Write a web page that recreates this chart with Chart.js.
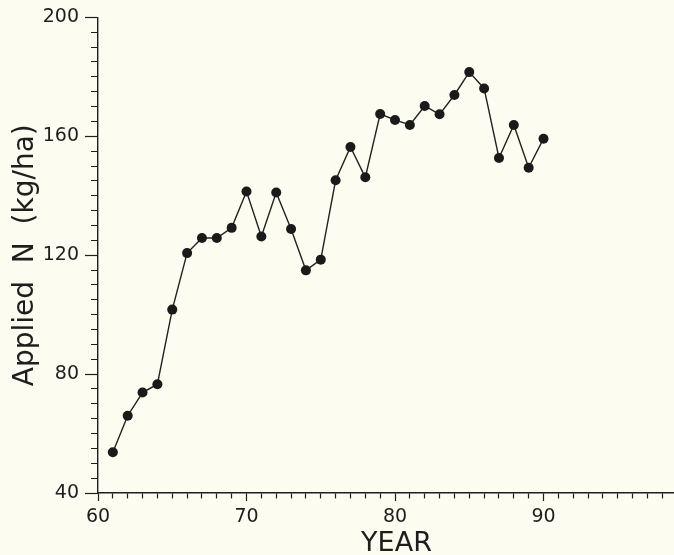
<!DOCTYPE html>
<html>
<head>
<meta charset="utf-8">
<script src="https://cdn.jsdelivr.net/npm/chart.js@4/dist/chart.umd.min.js"></script>
<style>
  html, body { margin: 0; padding: 0; background: #fcfcf0; overflow: hidden; }
  #wrap { width: 674px; height: 555px; position: relative; overflow: hidden; }
  canvas { display: block; }
</style>
</head>
<body>
<div id="wrap"><canvas id="c" width="700" height="555"></canvas></div>
<script>
const years = [61, 62, 63, 64, 65, 66, 67, 68, 69, 70, 71, 72, 73, 74, 75, 76, 77, 78, 79, 80, 81, 82, 83, 84, 85, 86, 87, 88, 89, 90];
const appliedN = [53.7, 66.0, 73.8, 76.6, 101.7, 120.7, 125.8, 125.8, 129.2, 141.4, 126.3, 141.1, 128.8, 114.9, 118.5, 145.2, 156.4, 146.2, 167.5, 165.5, 163.8, 170.2, 167.4, 173.9, 181.6, 176.1, 152.7, 163.8, 149.4, 159.2];
const xLabels = [60, 70, 80, 90];
const yLabels = [40, 80, 120, 160, 200];
const xTitle = 'YEAR';
const yTitle = 'Applied  N  (kg/ha)';

const ink = '#1e1e1e';
const fontFam = '"DejaVu Sans", "Liberation Sans", sans-serif';

new Chart(document.getElementById('c'), {
  type: 'line',
  data: {
    datasets: [{
      data: years.map((y, i) => ({ x: y, y: appliedN[i] })),
      borderColor: '#222',
      borderWidth: 1.4,
      pointRadius: 5,
      pointBackgroundColor: '#1a1a1a',
      pointBorderColor: '#1a1a1a',
      pointBorderWidth: 0,
      tension: 0,
      fill: false
    }]
  },
  options: {
    responsive: false,
    animation: false,
    layout: { padding: { top: 15, right: 0, left: 0, bottom: 0 } },
    plugins: { legend: { display: false }, tooltip: { enabled: false } },
    scales: {
      x: {
        type: 'linear',
        min: 60,
        max: 100.2,
        afterFit: s => { s.height = 62; },
        ticks: {
          stepSize: 1,
          includeBounds: false,
          autoSkip: false,
          maxRotation: 0,
          padding: 5,
          color: ink,
          font: { family: fontFam, size: 19 },
          callback: v => xLabels.includes(v) ? String(v) : ''
        },
        grid: {
          drawOnChartArea: false,
          drawTicks: true,
          tickLength: 8,
          tickColor: ink,
          tickWidth: 1.2,
          tickBorderDash: ctx => xLabels.includes(ctx.tick.value) ? [] : [5, 100]
        },
        border: { display: true, color: ink, width: 1.4 },
        title: {
          display: true,
          text: xTitle,
          color: ink,
          font: { family: fontFam, size: 27 },
          padding: { top: 0, bottom: -5 }
        }
      },
      y: {
        type: 'linear',
        min: 40,
        max: 200,
        afterFit: s => { s.width = 98; },
        ticks: {
          stepSize: 5,
          autoSkip: false,
          padding: 6,
          color: ink,
          font: { family: fontFam, size: 19 },
          callback: v => yLabels.includes(v) ? String(v) : ''
        },
        grid: {
          drawOnChartArea: false,
          drawTicks: true,
          tickLength: 13,
          tickColor: ink,
          tickWidth: 1.2,
          tickBorderDash: ctx => yLabels.includes(ctx.tick.value) ? [] : [0, 6, 100]
        },
        border: { display: true, color: ink, width: 1.4 },
        title: {
          display: true,
          text: yTitle,
          color: ink,
          font: { family: fontFam, size: 28 },
          padding: { top: 9, bottom: 0 }
        }
      }
    }
  },
  plugins: [{
    id: 'bg',
    beforeDraw: ch => {
      const c = ch.ctx;
      c.save();
      c.fillStyle = '#fcfcf0';
      c.fillRect(0, 0, ch.width, ch.height);
      c.restore();
    }
  }]
});
</script>
</body>
</html>
